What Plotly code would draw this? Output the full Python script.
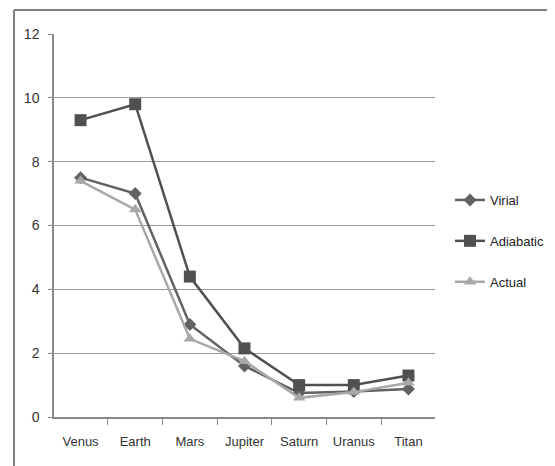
import plotly.graph_objects as go

categories = ["Venus", "Earth", "Mars", "Jupiter", "Saturn", "Uranus", "Titan"]
virial = [7.5, 7.0, 2.9, 1.6, 0.75, 0.8, 0.88]
adiabatic = [9.3, 9.8, 4.4, 2.15, 1.0, 1.0, 1.3]
actual = [7.4, 6.5, 2.45, 1.75, 0.6, 0.78, 1.07]
y_ticks = [0, 2, 4, 6, 8, 10, 12]

font_family = "Liberation Sans, Arial, sans-serif"

fig = go.Figure()
fig.add_trace(go.Scatter(x=categories, y=virial, name="Virial", mode="lines+markers",
                         legendgroup="a",
                         line=dict(color="#626262", width=2.5),
                         marker=dict(symbol="diamond", size=10, color="#626262")))
fig.add_trace(go.Scatter(x=categories, y=adiabatic, name="Adiabatic", mode="lines+markers",
                         legendgroup="b",
                         line=dict(color="#505050", width=2.5),
                         marker=dict(symbol="square", size=12, color="#505050")))
fig.add_trace(go.Scatter(x=categories, y=actual, name="Actual", mode="lines+markers",
                         legendgroup="c",
                         line=dict(color="#a8a8a8", width=2.5),
                         marker=dict(symbol="triangle-up", size=11, color="#a8a8a8")))

# page body offsets the figure by 8px; figure size & margins compensate
W, H = 547, 458
L, T, R, B = 46, 26, 120, 49
PW, PH = W - L - R, H - T - B

fig.update_layout(
    width=W, height=H,
    margin=dict(l=L, r=R, t=T, b=B, autoexpand=False),
    paper_bgcolor="white", plot_bgcolor="white",
    font=dict(family=font_family, size=13, color="#333333"),
    showlegend=True,
    legend=dict(xref="container", yref="container", x=442 / W, y=225 / H,
                xanchor="left", yanchor="middle",
                font=dict(size=13, color="#222222"), tracegroupgap=21,
                itemwidth=30, bgcolor="rgba(0,0,0,0)"),
    xaxis=dict(showline=True, linecolor="#8a8a8a", linewidth=1.5,
               ticks="outside", tickson="boundaries", ticklen=6, tickcolor="#8a8a8a",
               showgrid=False, tickangle=0, automargin=False, ticklabelstandoff=12,
               tickfont=dict(size=13, color="#333333")),
    yaxis=dict(range=[0, 12], tickvals=y_ticks, showline=True, linecolor="#8a8a8a",
               linewidth=1.5, ticks="outside", ticklen=4, tickcolor="#8a8a8a",
               showgrid=True, gridcolor="#999999", gridwidth=1.3, zeroline=False,
               automargin=False, ticklabelstandoff=6,
               tickfont=dict(size=14, color="#333333")),
    shapes=[
        dict(type="line", xref="paper", yref="paper", x0=(6 - L) / PW, x1=(W + 5 - L) / PW,
             y0=(H - B - 2) / PH, y1=(H - B - 2) / PH, line=dict(color="#808080", width=2)),
        dict(type="line", xref="paper", yref="paper", x0=(6 - L) / PW, x1=(6 - L) / PW,
             y0=(H - B - 2) / PH, y1=-(B + 5) / PH, line=dict(color="#808080", width=2)),
    ],
)

fig.write_html("out.html")
